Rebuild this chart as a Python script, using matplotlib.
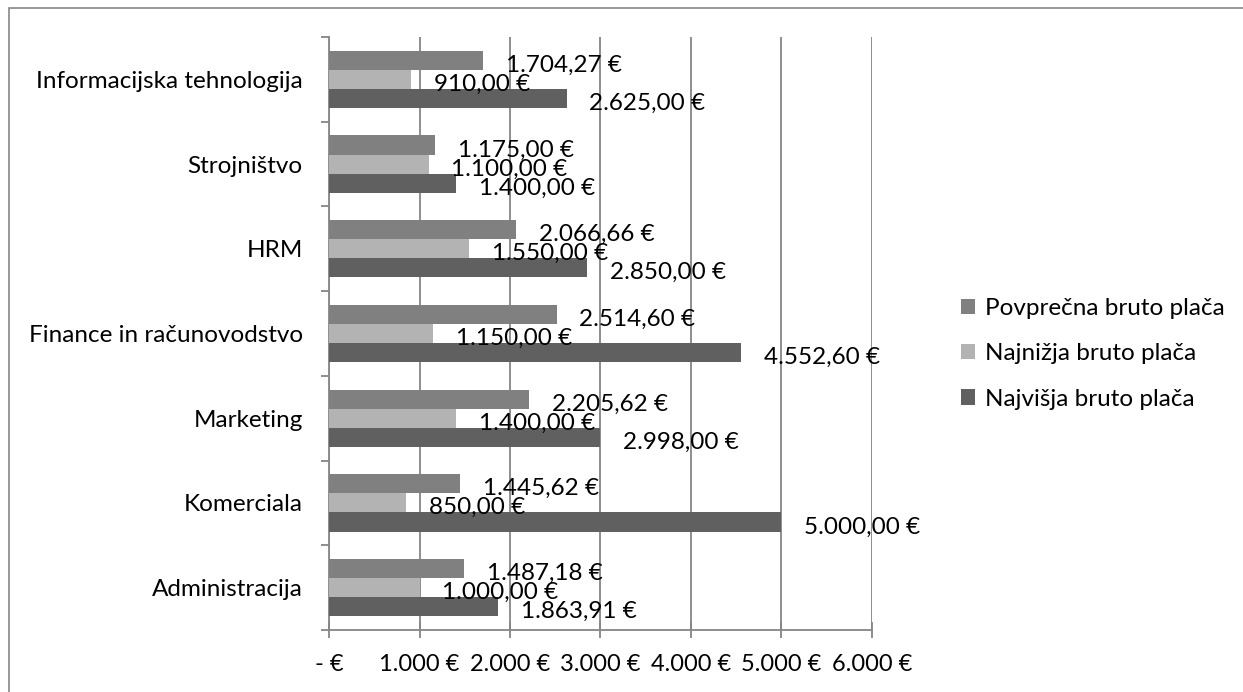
import matplotlib.pyplot as plt
from matplotlib.ticker import FuncFormatter, FixedLocator
from matplotlib.patches import Rectangle

plt.rcParams['font.family'] = ['Lato', 'DejaVu Sans']

# data (bottom to top, as drawn)
categories = ["Administracija", "Komerciala", "Marketing", "Finance in računovodstvo",
              "HRM", "Strojništvo", "Informacijska tehnologija"]
povprecna = [1487.18, 1445.62, 2205.62, 2514.60, 2066.66, 1175.00, 1704.27]
najnizja = [1000.00, 850.00, 1400.00, 1150.00, 1550.00, 1100.00, 910.00]
najvisja = [1863.91, 5000.00, 2998.00, 4552.60, 2850.00, 1400.00, 2625.00]
series_names = ["Povprečna bruto plača", "Najnižja bruto plača", "Najvišja bruto plača"]
colors = ["#808080", "#b3b3b3", "#606060"]


def eur(v, decimals=2):
    s = f"{v:,.{decimals}f}"
    s = s.replace(",", "X").replace(".", ",").replace("X", ".")
    return s + " €"


fig = plt.figure(figsize=(12.43, 6.92), dpi=100)
ax = fig.add_axes([0.2647, 0.0896, 0.4368, 0.8569])

# outer chart frame
fig.patches.append(Rectangle((9 / 1243, -0.05), 1.2, 1 - 8 / 692 + 0.05,
                             transform=fig.transFigure, fill=False,
                             edgecolor="#868686", linewidth=1.2))

h = 0.225
y = list(range(len(categories)))
offsets = [h, 0, -h]
all_series = [povprecna, najnizja, najvisja]

for vals, off, col, name in zip(all_series, offsets, colors, series_names):
    pos = [i + off for i in y]
    ax.barh(pos, vals, height=h, color=col, label=name, zorder=3)
    for p, v in zip(pos, vals):
        ax.annotate(eur(v), (v, p), xytext=(16.5, -3.5), textcoords="offset points",
                    ha="left", va="center", fontsize=17.5, zorder=4)

ax.set_xlim(0, 6000)
ax.set_ylim(-0.5, len(categories) - 0.5)

ax.xaxis.set_major_locator(FixedLocator(range(0, 6001, 1000)))
ax.xaxis.set_major_formatter(FuncFormatter(lambda v, p: "- €" if v == 0 else eur(v, 0)))
ax.grid(axis="x", color="#868686", linewidth=1.3, zorder=0)

# category boundaries as major ticks, labels on minor ticks
ax.yaxis.set_major_locator(FixedLocator([i - 0.5 for i in range(len(categories) + 1)]))
ax.yaxis.set_major_formatter(FuncFormatter(lambda v, p: ""))
ax.set_yticks(y, minor=True)
ax.set_yticklabels(categories, minor=True, fontsize=17.5)
ax.tick_params(axis="y", which="minor", length=0, pad=19)
ax.tick_params(axis="y", which="major", length=6, width=1.3, color="#868686", direction="out")
ax.tick_params(axis="x", which="major", length=12, width=1.3, color="#868686",
               direction="inout", labelsize=17, pad=11.5)

for side in ["top", "right"]:
    ax.spines[side].set_visible(False)
for side in ["left", "bottom"]:
    ax.spines[side].set_color("#868686")
    ax.spines[side].set_linewidth(1.3)

leg = fig.legend(loc="upper left", bbox_to_anchor=(0.7555, 0.601), frameon=False,
                 fontsize=17.5, handlelength=0.58, handleheight=0.58, handletextpad=0.4,
                 labelspacing=1.0)

fig.savefig("out.png", dpi=100)
